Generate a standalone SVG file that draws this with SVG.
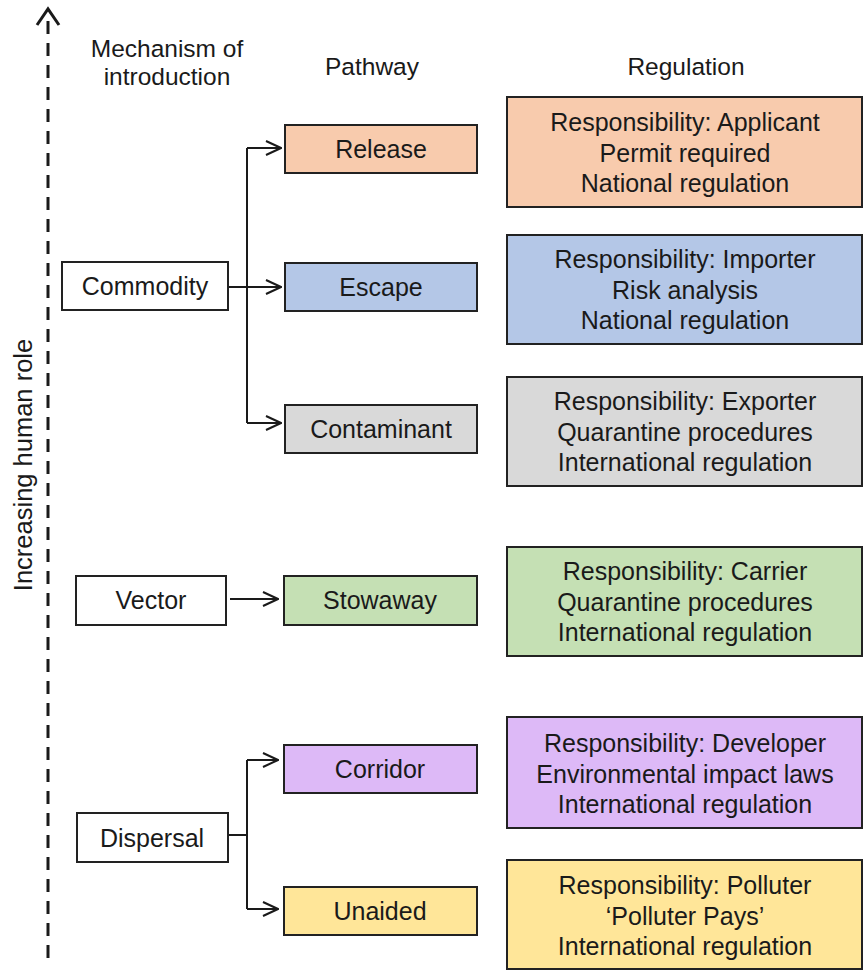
<svg xmlns="http://www.w3.org/2000/svg" width="866" height="972" viewBox="0 0 866 972">
<style>
text{font-family:"Liberation Sans",Arial,sans-serif;fill:#1a1a1a;text-anchor:middle}
.h{font-size:24.5px}
.n{font-size:25px}
.r{font-size:25px}
.box{stroke:#222;stroke-width:2}
.c{fill:none;stroke:#1a1a1a;stroke-width:2}
</style>
<defs>
<marker id="a" viewBox="0 0 17 16" refX="16" refY="8" markerWidth="17" markerHeight="16" markerUnits="userSpaceOnUse" orient="auto">
<path d="M1,1 L16,8 L1,15" fill="none" stroke="#1a1a1a" stroke-width="2"/>
</marker>
</defs>
<rect width="866" height="972" fill="#fff"/>

<g id="axis">
<line x1="48" y1="958" x2="48" y2="14" stroke="#1a1a1a" stroke-width="3" stroke-dasharray="13,9"/>
<path d="M37,25 L48,9 L59,25" fill="none" stroke="#1a1a1a" stroke-width="3"/>
<text class="h" style="font-size:25.5px" transform="translate(32,465) rotate(-90)">Increasing human role</text>
</g>

<g id="headers">
<text class="h" x="167" y="57">Mechanism of</text>
<text class="h" x="167" y="85">introduction</text>
<text class="h" x="372" y="75">Pathway</text>
<text class="h" x="686" y="75">Regulation</text>
</g>

<g id="connectors">
<polyline class="c" points="228,287 247,287"/>
<line class="c" x1="247" y1="148" x2="247" y2="423"/>
<line class="c" x1="247" y1="148" x2="281" y2="148" marker-end="url(#a)"/>
<line class="c" x1="247" y1="287" x2="281" y2="287" marker-end="url(#a)"/>
<line class="c" x1="247" y1="423" x2="281" y2="423" marker-end="url(#a)"/>
<line class="c" x1="230" y1="599" x2="278" y2="599" marker-end="url(#a)"/>
<polyline class="c" points="229,835 247,835"/>
<line class="c" x1="247" y1="760" x2="247" y2="909"/>
<line class="c" x1="247" y1="760" x2="278" y2="760" marker-end="url(#a)"/>
<line class="c" x1="247" y1="909" x2="278" y2="909" marker-end="url(#a)"/>
</g>

<g id="commodity"><rect class="box" x="62" y="262" width="166" height="48" fill="#fff"/><text class="n" x="145" y="295">Commodity</text></g>
<g id="vector"><rect class="box" x="76" y="576" width="150" height="49" fill="#fff"/><text class="n" x="151" y="609">Vector</text></g>
<g id="dispersal"><rect class="box" x="77" y="813" width="151" height="49" fill="#fff"/><text class="n" x="152" y="847">Dispersal</text></g>

<g id="release"><rect class="box" x="285" y="125" width="192" height="48" fill="#F8CBAD"/><text class="n" x="381" y="158">Release</text></g>
<g id="escape"><rect class="box" x="285" y="263" width="192" height="48" fill="#B4C7E7"/><text class="n" x="381" y="296">Escape</text></g>
<g id="contaminant"><rect class="box" x="285" y="405" width="192" height="48" fill="#D9D9D9"/><text class="n" x="381" y="438">Contaminant</text></g>
<g id="stowaway"><rect class="box" x="284" y="576" width="193" height="49" fill="#C5E0B4"/><text class="n" x="380" y="609">Stowaway</text></g>
<g id="corridor"><rect class="box" x="284" y="745" width="193" height="48" fill="#DDB9F7"/><text class="n" x="380" y="778">Corridor</text></g>
<g id="unaided"><rect class="box" x="284" y="887" width="193" height="48" fill="#FFE699"/><text class="n" x="380" y="920">Unaided</text></g>

<g id="reg-release"><rect class="box" x="507" y="97" width="355" height="110" fill="#F8CBAD"/>
<text class="r" x="685" y="131">Responsibility: Applicant</text><text class="r" x="685" y="162">Permit required</text><text class="r" x="685" y="192">National regulation</text></g>
<g id="reg-escape"><rect class="box" x="507" y="235" width="355" height="109" fill="#B4C7E7"/>
<text class="r" x="685" y="268">Responsibility: Importer</text><text class="r" x="685" y="299">Risk analysis</text><text class="r" x="685" y="329">National regulation</text></g>
<g id="reg-contaminant"><rect class="box" x="507" y="377" width="355" height="109" fill="#D9D9D9"/>
<text class="r" x="685" y="410">Responsibility: Exporter</text><text class="r" x="685" y="441">Quarantine procedures</text><text class="r" x="685" y="471">International regulation</text></g>
<g id="reg-stowaway"><rect class="box" x="507" y="547" width="355" height="109" fill="#C5E0B4"/>
<text class="r" x="685" y="580">Responsibility: Carrier</text><text class="r" x="685" y="611">Quarantine procedures</text><text class="r" x="685" y="641">International regulation</text></g>
<g id="reg-corridor"><rect class="box" x="507" y="717" width="355" height="111" fill="#DDB9F7"/>
<text class="r" x="685" y="752">Responsibility: Developer</text><text class="r" x="685" y="783">Environmental impact laws</text><text class="r" x="685" y="813">International regulation</text></g>
<g id="reg-unaided"><rect class="box" x="507" y="860" width="355" height="109" fill="#FFE699"/>
<text class="r" x="685" y="894">Responsibility: Polluter</text><text class="r" x="685" y="925">‘Polluter Pays’</text><text class="r" x="685" y="955">International regulation</text></g>
</svg>
